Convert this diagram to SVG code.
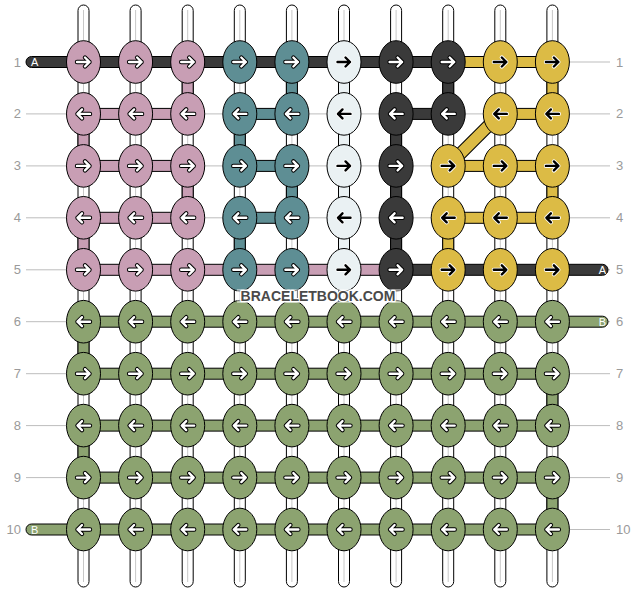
<svg xmlns="http://www.w3.org/2000/svg" xmlns:xlink="http://www.w3.org/1999/xlink" width="636" height="592" viewBox="0 0 636 592">
<style>
.gl{stroke:#bdbdbd;stroke-width:1}
.vt{fill:#fff;stroke:#000;stroke-width:1}
.vc{stroke:#c8c8c8;stroke-width:1}
.s{stroke:#000;stroke-width:1}
.n{stroke:#000;stroke-width:1}
.p{fill:#c89eb4}.t{fill:#5e8e94}.l{fill:#eaf1f3}.d{fill:#3a3a3a}.y{fill:#dcbb45}.g{fill:#8ca370}
.rl{font-family:"Liberation Sans",Arial,sans-serif;font-size:13px;fill:#9a9a9a}
.tl{font-family:"Liberation Sans",Arial,sans-serif;font-size:11px;fill:#fff}
.wm{font-family:"Liberation Sans",Arial,sans-serif;font-size:14px;font-weight:bold;fill:#4a4a4a;stroke:#fff;stroke-width:2.5;paint-order:stroke;stroke-linejoin:round}
</style>
<defs>
<path id="ap" d="M-6.5,0H6M1.5,-4.5L6,0L1.5,4.5" fill="none" stroke-linecap="round" stroke-linejoin="round"/>
<g id="aw"><use xlink:href="#ap" stroke="#000" stroke-width="4.4"/><use xlink:href="#ap" stroke="#fff" stroke-width="2.4"/></g>
<g id="ab"><use xlink:href="#ap" stroke="#fff" stroke-width="4.2"/><use xlink:href="#ap" stroke="#000" stroke-width="2.4"/></g>
</defs>
<g id="guides">
<line class="gl" x1="26" y1="62" x2="610" y2="62"/>
<line class="gl" x1="26" y1="113.9" x2="610" y2="113.9"/>
<line class="gl" x1="26" y1="165.9" x2="610" y2="165.9"/>
<line class="gl" x1="26" y1="217.8" x2="610" y2="217.8"/>
<line class="gl" x1="26" y1="269.8" x2="610" y2="269.8"/>
<line class="gl" x1="26" y1="321.7" x2="610" y2="321.7"/>
<line class="gl" x1="26" y1="373.7" x2="610" y2="373.7"/>
<line class="gl" x1="26" y1="425.6" x2="610" y2="425.6"/>
<line class="gl" x1="26" y1="477.6" x2="610" y2="477.6"/>
<line class="gl" x1="26" y1="529.5" x2="610" y2="529.5"/>
</g>
<g id="labels">
<text class="rl" x="21" y="66.5" text-anchor="end">1</text>
<text class="rl" x="21" y="118.4" text-anchor="end">2</text>
<text class="rl" x="21" y="170.4" text-anchor="end">3</text>
<text class="rl" x="21" y="222.3" text-anchor="end">4</text>
<text class="rl" x="21" y="274.3" text-anchor="end">5</text>
<text class="rl" x="21" y="326.2" text-anchor="end">6</text>
<text class="rl" x="21" y="378.2" text-anchor="end">7</text>
<text class="rl" x="21" y="430.1" text-anchor="end">8</text>
<text class="rl" x="21" y="482.1" text-anchor="end">9</text>
<text class="rl" x="21" y="534" text-anchor="end">10</text>
<text class="rl" x="616" y="66.5">1</text>
<text class="rl" x="616" y="118.4">2</text>
<text class="rl" x="616" y="170.4">3</text>
<text class="rl" x="616" y="222.3">4</text>
<text class="rl" x="616" y="274.3">5</text>
<text class="rl" x="616" y="326.2">6</text>
<text class="rl" x="616" y="378.2">7</text>
<text class="rl" x="616" y="430.1">8</text>
<text class="rl" x="616" y="482.1">9</text>
<text class="rl" x="616" y="534">10</text>
</g>
<g id="connectors">
<g id="vertical-threads">
<rect class="vt" x="78" y="5" width="11" height="582" rx="5.5"/>
<rect class="vt" x="130.1" y="5" width="11" height="582" rx="5.5"/>
<rect class="vt" x="182.2" y="5" width="11" height="582" rx="5.5"/>
<rect class="vt" x="234.3" y="5" width="11" height="582" rx="5.5"/>
<rect class="vt" x="286.4" y="5" width="11" height="582" rx="5.5"/>
<rect class="vt" x="338.5" y="5" width="11" height="582" rx="5.5"/>
<rect class="vt" x="390.6" y="5" width="11" height="582" rx="5.5"/>
<rect class="vt" x="442.7" y="5" width="11" height="582" rx="5.5"/>
<rect class="vt" x="494.8" y="5" width="11" height="582" rx="5.5"/>
<rect class="vt" x="546.9" y="5" width="11" height="582" rx="5.5"/>
<line class="vc" x1="83.5" y1="10" x2="83.5" y2="582"/>
<line class="vc" x1="135.6" y1="10" x2="135.6" y2="582"/>
<line class="vc" x1="187.7" y1="10" x2="187.7" y2="582"/>
<line class="vc" x1="239.8" y1="10" x2="239.8" y2="582"/>
<line class="vc" x1="291.9" y1="10" x2="291.9" y2="582"/>
<line class="vc" x1="344" y1="10" x2="344" y2="582"/>
<line class="vc" x1="396.1" y1="10" x2="396.1" y2="582"/>
<line class="vc" x1="448.2" y1="10" x2="448.2" y2="582"/>
<line class="vc" x1="500.3" y1="10" x2="500.3" y2="582"/>
<line class="vc" x1="552.4" y1="10" x2="552.4" y2="582"/>
</g>
<g id="horizontal">
<rect class="s d" x="26" y="56.5" width="422.2" height="11" rx="5.5"/>
<rect class="s y" x="448.2" y="56.5" width="104.2" height="11"/>
<rect class="s p" x="83.5" y="108.4" width="104.2" height="11"/>
<rect class="s t" x="239.8" y="108.4" width="52.1" height="11"/>
<rect class="s d" x="396.1" y="108.4" width="52.1" height="11"/>
<rect class="s y" x="500.3" y="108.4" width="52.1" height="11"/>
<rect class="s p" x="83.5" y="160.4" width="104.2" height="11"/>
<rect class="s t" x="239.8" y="160.4" width="52.1" height="11"/>
<rect class="s y" x="448.2" y="160.4" width="104.2" height="11"/>
<rect class="s p" x="83.5" y="212.3" width="104.2" height="11"/>
<rect class="s t" x="239.8" y="212.3" width="52.1" height="11"/>
<rect class="s y" x="448.2" y="212.3" width="104.2" height="11"/>
<rect class="s p" x="83.5" y="264.3" width="312.6" height="11"/>
<rect class="s d" x="396.1" y="264.3" width="211.9" height="11" rx="5.5"/>
<rect class="s g" x="83.5" y="316.2" width="524.5" height="11" rx="5.5"/>
<rect class="s g" x="83.5" y="368.2" width="468.9" height="11"/>
<rect class="s g" x="83.5" y="420.1" width="468.9" height="11"/>
<rect class="s g" x="83.5" y="472.1" width="468.9" height="11"/>
<rect class="s g" x="26" y="524" width="526.4" height="11" rx="5.5"/>
</g>
<g id="vertical">
<rect class="s p" x="182.2" y="62" width="11" height="51.9"/>
<rect class="s t" x="286.4" y="62" width="11" height="51.9"/>
<rect class="s l" x="338.5" y="62" width="11" height="207.8"/>
<rect class="s d" x="442.7" y="62" width="11" height="51.9"/>
<rect class="s y" x="546.9" y="62" width="11" height="51.9"/>
<rect class="s p" x="78" y="113.9" width="11" height="52"/>
<rect class="s t" x="234.3" y="113.9" width="11" height="52"/>
<rect class="s d" x="390.6" y="113.9" width="11" height="155.9"/>
<rect class="s p" x="182.2" y="165.9" width="11" height="51.9"/>
<rect class="s t" x="286.4" y="165.9" width="11" height="51.9"/>
<rect class="s y" x="546.9" y="165.9" width="11" height="51.9"/>
<rect class="s p" x="78" y="217.8" width="11" height="52"/>
<rect class="s t" x="234.3" y="217.8" width="11" height="52"/>
<rect class="s y" x="442.7" y="217.8" width="11" height="52"/>
<rect class="s g" x="78" y="321.7" width="11" height="52"/>
<rect class="s g" x="546.9" y="373.7" width="11" height="51.9"/>
<rect class="s g" x="78" y="425.6" width="11" height="52"/>
<rect class="s g" x="546.9" y="477.6" width="11" height="51.9"/>
<line x1="500.3" y1="113.9" x2="448.2" y2="165.9" stroke="#000" stroke-width="13"/>
<line x1="500.3" y1="113.9" x2="448.2" y2="165.9" stroke="#dcbb45" stroke-width="11"/>
</g>
<g id="thread-ends">
<text class="tl" x="31" y="66">A</text>
<text class="tl" x="606" y="274" text-anchor="end">A</text>
<text class="tl" x="606" y="325.9" text-anchor="end">B</text>
<text class="tl" x="31" y="533.5">B</text>
</g>
</g>
<g id="knots">
<g id="r1">
<ellipse class="n p" cx="83.5" cy="62" rx="17" ry="21.3"/><use xlink:href="#aw" x="83.5" y="62"/>
<ellipse class="n p" cx="135.6" cy="62" rx="17" ry="21.3"/><use xlink:href="#aw" x="135.6" y="62"/>
<ellipse class="n p" cx="187.7" cy="62" rx="17" ry="21.3"/><use xlink:href="#aw" x="187.7" y="62"/>
<ellipse class="n t" cx="239.8" cy="62" rx="17" ry="21.3"/><use xlink:href="#aw" x="239.8" y="62"/>
<ellipse class="n t" cx="291.9" cy="62" rx="17" ry="21.3"/><use xlink:href="#aw" x="291.9" y="62"/>
<ellipse class="n l" cx="344" cy="62" rx="17" ry="21.3"/><use xlink:href="#ab" x="344" y="62"/>
<ellipse class="n d" cx="396.1" cy="62" rx="17" ry="21.3"/><use xlink:href="#aw" x="396.1" y="62"/>
<ellipse class="n d" cx="448.2" cy="62" rx="17" ry="21.3"/><use xlink:href="#aw" x="448.2" y="62"/>
<ellipse class="n y" cx="500.3" cy="62" rx="17" ry="21.3"/><use xlink:href="#ab" x="500.3" y="62"/>
<ellipse class="n y" cx="552.4" cy="62" rx="17" ry="21.3"/><use xlink:href="#ab" x="552.4" y="62"/>
</g>
<g id="r2">
<ellipse class="n p" cx="83.5" cy="113.9" rx="17" ry="21.3"/><use xlink:href="#aw" transform="translate(83.5,113.9) scale(-1,1)"/>
<ellipse class="n p" cx="135.6" cy="113.9" rx="17" ry="21.3"/><use xlink:href="#aw" transform="translate(135.6,113.9) scale(-1,1)"/>
<ellipse class="n p" cx="187.7" cy="113.9" rx="17" ry="21.3"/><use xlink:href="#aw" transform="translate(187.7,113.9) scale(-1,1)"/>
<ellipse class="n t" cx="239.8" cy="113.9" rx="17" ry="21.3"/><use xlink:href="#aw" transform="translate(239.8,113.9) scale(-1,1)"/>
<ellipse class="n t" cx="291.9" cy="113.9" rx="17" ry="21.3"/><use xlink:href="#aw" transform="translate(291.9,113.9) scale(-1,1)"/>
<ellipse class="n l" cx="344" cy="113.9" rx="17" ry="21.3"/><use xlink:href="#ab" transform="translate(344,113.9) scale(-1,1)"/>
<ellipse class="n d" cx="396.1" cy="113.9" rx="17" ry="21.3"/><use xlink:href="#aw" transform="translate(396.1,113.9) scale(-1,1)"/>
<ellipse class="n d" cx="448.2" cy="113.9" rx="17" ry="21.3"/><use xlink:href="#aw" transform="translate(448.2,113.9) scale(-1,1)"/>
<ellipse class="n y" cx="500.3" cy="113.9" rx="17" ry="21.3"/><use xlink:href="#ab" transform="translate(500.3,113.9) scale(-1,1)"/>
<ellipse class="n y" cx="552.4" cy="113.9" rx="17" ry="21.3"/><use xlink:href="#ab" transform="translate(552.4,113.9) scale(-1,1)"/>
</g>
<g id="r3">
<ellipse class="n p" cx="83.5" cy="165.9" rx="17" ry="21.3"/><use xlink:href="#aw" x="83.5" y="165.9"/>
<ellipse class="n p" cx="135.6" cy="165.9" rx="17" ry="21.3"/><use xlink:href="#aw" x="135.6" y="165.9"/>
<ellipse class="n p" cx="187.7" cy="165.9" rx="17" ry="21.3"/><use xlink:href="#aw" x="187.7" y="165.9"/>
<ellipse class="n t" cx="239.8" cy="165.9" rx="17" ry="21.3"/><use xlink:href="#aw" x="239.8" y="165.9"/>
<ellipse class="n t" cx="291.9" cy="165.9" rx="17" ry="21.3"/><use xlink:href="#aw" x="291.9" y="165.9"/>
<ellipse class="n l" cx="344" cy="165.9" rx="17" ry="21.3"/><use xlink:href="#ab" x="344" y="165.9"/>
<ellipse class="n d" cx="396.1" cy="165.9" rx="17" ry="21.3"/><use xlink:href="#aw" x="396.1" y="165.9"/>
<ellipse class="n y" cx="448.2" cy="165.9" rx="17" ry="21.3"/><use xlink:href="#ab" x="448.2" y="165.9"/>
<ellipse class="n y" cx="500.3" cy="165.9" rx="17" ry="21.3"/><use xlink:href="#ab" x="500.3" y="165.9"/>
<ellipse class="n y" cx="552.4" cy="165.9" rx="17" ry="21.3"/><use xlink:href="#ab" x="552.4" y="165.9"/>
</g>
<g id="r4">
<ellipse class="n p" cx="83.5" cy="217.8" rx="17" ry="21.3"/><use xlink:href="#aw" transform="translate(83.5,217.8) scale(-1,1)"/>
<ellipse class="n p" cx="135.6" cy="217.8" rx="17" ry="21.3"/><use xlink:href="#aw" transform="translate(135.6,217.8) scale(-1,1)"/>
<ellipse class="n p" cx="187.7" cy="217.8" rx="17" ry="21.3"/><use xlink:href="#aw" transform="translate(187.7,217.8) scale(-1,1)"/>
<ellipse class="n t" cx="239.8" cy="217.8" rx="17" ry="21.3"/><use xlink:href="#aw" transform="translate(239.8,217.8) scale(-1,1)"/>
<ellipse class="n t" cx="291.9" cy="217.8" rx="17" ry="21.3"/><use xlink:href="#aw" transform="translate(291.9,217.8) scale(-1,1)"/>
<ellipse class="n l" cx="344" cy="217.8" rx="17" ry="21.3"/><use xlink:href="#ab" transform="translate(344,217.8) scale(-1,1)"/>
<ellipse class="n d" cx="396.1" cy="217.8" rx="17" ry="21.3"/><use xlink:href="#aw" transform="translate(396.1,217.8) scale(-1,1)"/>
<ellipse class="n y" cx="448.2" cy="217.8" rx="17" ry="21.3"/><use xlink:href="#ab" transform="translate(448.2,217.8) scale(-1,1)"/>
<ellipse class="n y" cx="500.3" cy="217.8" rx="17" ry="21.3"/><use xlink:href="#ab" transform="translate(500.3,217.8) scale(-1,1)"/>
<ellipse class="n y" cx="552.4" cy="217.8" rx="17" ry="21.3"/><use xlink:href="#ab" transform="translate(552.4,217.8) scale(-1,1)"/>
</g>
<g id="r5">
<ellipse class="n p" cx="83.5" cy="269.8" rx="17" ry="21.3"/><use xlink:href="#aw" x="83.5" y="269.8"/>
<ellipse class="n p" cx="135.6" cy="269.8" rx="17" ry="21.3"/><use xlink:href="#aw" x="135.6" y="269.8"/>
<ellipse class="n p" cx="187.7" cy="269.8" rx="17" ry="21.3"/><use xlink:href="#aw" x="187.7" y="269.8"/>
<ellipse class="n t" cx="239.8" cy="269.8" rx="17" ry="21.3"/><use xlink:href="#aw" x="239.8" y="269.8"/>
<ellipse class="n t" cx="291.9" cy="269.8" rx="17" ry="21.3"/><use xlink:href="#aw" x="291.9" y="269.8"/>
<ellipse class="n l" cx="344" cy="269.8" rx="17" ry="21.3"/><use xlink:href="#ab" x="344" y="269.8"/>
<ellipse class="n d" cx="396.1" cy="269.8" rx="17" ry="21.3"/><use xlink:href="#aw" x="396.1" y="269.8"/>
<ellipse class="n y" cx="448.2" cy="269.8" rx="17" ry="21.3"/><use xlink:href="#ab" x="448.2" y="269.8"/>
<ellipse class="n y" cx="500.3" cy="269.8" rx="17" ry="21.3"/><use xlink:href="#ab" x="500.3" y="269.8"/>
<ellipse class="n y" cx="552.4" cy="269.8" rx="17" ry="21.3"/><use xlink:href="#ab" x="552.4" y="269.8"/>
</g>
<g id="r6">
<ellipse class="n g" cx="83.5" cy="321.7" rx="17" ry="21.3"/><use xlink:href="#aw" transform="translate(83.5,321.7) scale(-1,1)"/>
<ellipse class="n g" cx="135.6" cy="321.7" rx="17" ry="21.3"/><use xlink:href="#aw" transform="translate(135.6,321.7) scale(-1,1)"/>
<ellipse class="n g" cx="187.7" cy="321.7" rx="17" ry="21.3"/><use xlink:href="#aw" transform="translate(187.7,321.7) scale(-1,1)"/>
<ellipse class="n g" cx="239.8" cy="321.7" rx="17" ry="21.3"/><use xlink:href="#aw" transform="translate(239.8,321.7) scale(-1,1)"/>
<ellipse class="n g" cx="291.9" cy="321.7" rx="17" ry="21.3"/><use xlink:href="#aw" transform="translate(291.9,321.7) scale(-1,1)"/>
<ellipse class="n g" cx="344" cy="321.7" rx="17" ry="21.3"/><use xlink:href="#aw" transform="translate(344,321.7) scale(-1,1)"/>
<ellipse class="n g" cx="396.1" cy="321.7" rx="17" ry="21.3"/><use xlink:href="#aw" transform="translate(396.1,321.7) scale(-1,1)"/>
<ellipse class="n g" cx="448.2" cy="321.7" rx="17" ry="21.3"/><use xlink:href="#aw" transform="translate(448.2,321.7) scale(-1,1)"/>
<ellipse class="n g" cx="500.3" cy="321.7" rx="17" ry="21.3"/><use xlink:href="#aw" transform="translate(500.3,321.7) scale(-1,1)"/>
<ellipse class="n g" cx="552.4" cy="321.7" rx="17" ry="21.3"/><use xlink:href="#aw" transform="translate(552.4,321.7) scale(-1,1)"/>
</g>
<g id="r7">
<ellipse class="n g" cx="83.5" cy="373.7" rx="17" ry="21.3"/><use xlink:href="#aw" x="83.5" y="373.7"/>
<ellipse class="n g" cx="135.6" cy="373.7" rx="17" ry="21.3"/><use xlink:href="#aw" x="135.6" y="373.7"/>
<ellipse class="n g" cx="187.7" cy="373.7" rx="17" ry="21.3"/><use xlink:href="#aw" x="187.7" y="373.7"/>
<ellipse class="n g" cx="239.8" cy="373.7" rx="17" ry="21.3"/><use xlink:href="#aw" x="239.8" y="373.7"/>
<ellipse class="n g" cx="291.9" cy="373.7" rx="17" ry="21.3"/><use xlink:href="#aw" x="291.9" y="373.7"/>
<ellipse class="n g" cx="344" cy="373.7" rx="17" ry="21.3"/><use xlink:href="#aw" x="344" y="373.7"/>
<ellipse class="n g" cx="396.1" cy="373.7" rx="17" ry="21.3"/><use xlink:href="#aw" x="396.1" y="373.7"/>
<ellipse class="n g" cx="448.2" cy="373.7" rx="17" ry="21.3"/><use xlink:href="#aw" x="448.2" y="373.7"/>
<ellipse class="n g" cx="500.3" cy="373.7" rx="17" ry="21.3"/><use xlink:href="#aw" x="500.3" y="373.7"/>
<ellipse class="n g" cx="552.4" cy="373.7" rx="17" ry="21.3"/><use xlink:href="#aw" x="552.4" y="373.7"/>
</g>
<g id="r8">
<ellipse class="n g" cx="83.5" cy="425.6" rx="17" ry="21.3"/><use xlink:href="#aw" transform="translate(83.5,425.6) scale(-1,1)"/>
<ellipse class="n g" cx="135.6" cy="425.6" rx="17" ry="21.3"/><use xlink:href="#aw" transform="translate(135.6,425.6) scale(-1,1)"/>
<ellipse class="n g" cx="187.7" cy="425.6" rx="17" ry="21.3"/><use xlink:href="#aw" transform="translate(187.7,425.6) scale(-1,1)"/>
<ellipse class="n g" cx="239.8" cy="425.6" rx="17" ry="21.3"/><use xlink:href="#aw" transform="translate(239.8,425.6) scale(-1,1)"/>
<ellipse class="n g" cx="291.9" cy="425.6" rx="17" ry="21.3"/><use xlink:href="#aw" transform="translate(291.9,425.6) scale(-1,1)"/>
<ellipse class="n g" cx="344" cy="425.6" rx="17" ry="21.3"/><use xlink:href="#aw" transform="translate(344,425.6) scale(-1,1)"/>
<ellipse class="n g" cx="396.1" cy="425.6" rx="17" ry="21.3"/><use xlink:href="#aw" transform="translate(396.1,425.6) scale(-1,1)"/>
<ellipse class="n g" cx="448.2" cy="425.6" rx="17" ry="21.3"/><use xlink:href="#aw" transform="translate(448.2,425.6) scale(-1,1)"/>
<ellipse class="n g" cx="500.3" cy="425.6" rx="17" ry="21.3"/><use xlink:href="#aw" transform="translate(500.3,425.6) scale(-1,1)"/>
<ellipse class="n g" cx="552.4" cy="425.6" rx="17" ry="21.3"/><use xlink:href="#aw" transform="translate(552.4,425.6) scale(-1,1)"/>
</g>
<g id="r9">
<ellipse class="n g" cx="83.5" cy="477.6" rx="17" ry="21.3"/><use xlink:href="#aw" x="83.5" y="477.6"/>
<ellipse class="n g" cx="135.6" cy="477.6" rx="17" ry="21.3"/><use xlink:href="#aw" x="135.6" y="477.6"/>
<ellipse class="n g" cx="187.7" cy="477.6" rx="17" ry="21.3"/><use xlink:href="#aw" x="187.7" y="477.6"/>
<ellipse class="n g" cx="239.8" cy="477.6" rx="17" ry="21.3"/><use xlink:href="#aw" x="239.8" y="477.6"/>
<ellipse class="n g" cx="291.9" cy="477.6" rx="17" ry="21.3"/><use xlink:href="#aw" x="291.9" y="477.6"/>
<ellipse class="n g" cx="344" cy="477.6" rx="17" ry="21.3"/><use xlink:href="#aw" x="344" y="477.6"/>
<ellipse class="n g" cx="396.1" cy="477.6" rx="17" ry="21.3"/><use xlink:href="#aw" x="396.1" y="477.6"/>
<ellipse class="n g" cx="448.2" cy="477.6" rx="17" ry="21.3"/><use xlink:href="#aw" x="448.2" y="477.6"/>
<ellipse class="n g" cx="500.3" cy="477.6" rx="17" ry="21.3"/><use xlink:href="#aw" x="500.3" y="477.6"/>
<ellipse class="n g" cx="552.4" cy="477.6" rx="17" ry="21.3"/><use xlink:href="#aw" x="552.4" y="477.6"/>
</g>
<g id="r10">
<ellipse class="n g" cx="83.5" cy="529.5" rx="17" ry="21.3"/><use xlink:href="#aw" transform="translate(83.5,529.5) scale(-1,1)"/>
<ellipse class="n g" cx="135.6" cy="529.5" rx="17" ry="21.3"/><use xlink:href="#aw" transform="translate(135.6,529.5) scale(-1,1)"/>
<ellipse class="n g" cx="187.7" cy="529.5" rx="17" ry="21.3"/><use xlink:href="#aw" transform="translate(187.7,529.5) scale(-1,1)"/>
<ellipse class="n g" cx="239.8" cy="529.5" rx="17" ry="21.3"/><use xlink:href="#aw" transform="translate(239.8,529.5) scale(-1,1)"/>
<ellipse class="n g" cx="291.9" cy="529.5" rx="17" ry="21.3"/><use xlink:href="#aw" transform="translate(291.9,529.5) scale(-1,1)"/>
<ellipse class="n g" cx="344" cy="529.5" rx="17" ry="21.3"/><use xlink:href="#aw" transform="translate(344,529.5) scale(-1,1)"/>
<ellipse class="n g" cx="396.1" cy="529.5" rx="17" ry="21.3"/><use xlink:href="#aw" transform="translate(396.1,529.5) scale(-1,1)"/>
<ellipse class="n g" cx="448.2" cy="529.5" rx="17" ry="21.3"/><use xlink:href="#aw" transform="translate(448.2,529.5) scale(-1,1)"/>
<ellipse class="n g" cx="500.3" cy="529.5" rx="17" ry="21.3"/><use xlink:href="#aw" transform="translate(500.3,529.5) scale(-1,1)"/>
<ellipse class="n g" cx="552.4" cy="529.5" rx="17" ry="21.3"/><use xlink:href="#aw" transform="translate(552.4,529.5) scale(-1,1)"/>
</g>
</g>
<g id="watermark">
<rect x="237" y="289" width="164" height="14" fill="#fff" opacity="0.45"/>
<text class="wm" x="318" y="301" text-anchor="middle">BRACELETBOOK.COM</text>
</g>
</svg>
